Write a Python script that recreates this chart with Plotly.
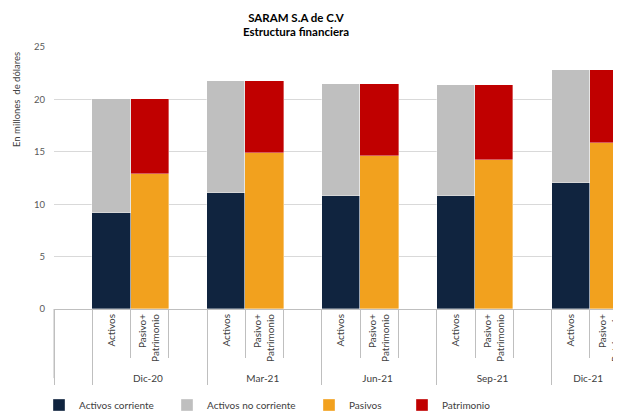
import plotly.graph_objects as go

periods = ["Dic-20", "Mar-21", "Jun-21", "Sep-21", "Dic-21"]
bar_labels = ["Activos", "Pasivo+<br>Patrimonio"]
activos_corriente = [9.2, 11.1, 10.8, 10.8, 12.0]
activos_no_corriente = [10.8, 10.7, 10.7, 10.6, 10.8]
pasivos = [12.9, 14.9, 14.6, 14.2, 15.8]
patrimonio = [7.1, 6.9, 6.9, 7.2, 7.0]
y_ticks = [0, 5, 10, 15, 20, 25]

series = [
    ("Activos corriente", activos_corriente, 0, "#10243F", "legend"),
    ("Activos no corriente", activos_no_corriente, 0, "#BFBFBF", "legend2"),
    ("Pasivos", pasivos, 1, "#F2A11E", "legend3"),
    ("Patrimonio", patrimonio, 1, "#C00000", "legend4"),
]

# multicategory slots: leading blank, then per period [Activos, Pasivo+Patrimonio, blank]
outer = [" "]
inner = [" "]
for p in periods:
    outer += [p, p, p]
    inner += [bar_labels[0], bar_labels[1], "  "]

fig = go.Figure()
for name, vals, slot, color, lg in series:
    y = [None]
    for v in vals:
        row = [None, None, None]
        row[slot] = v
        y += row
    fig.add_trace(go.Bar(
        x=[outer, inner], y=y, name=name, legend=lg, showlegend=True,
        marker=dict(color=color, line=dict(color="rgba(255,255,255,0.6)", width=0.6)),
    ))

font_family = "Lato, 'Open Sans', sans-serif"
OFF = 8  # page body margin
W, H = 621 - OFF, 411 - OFF
ml, mr, mt = 54 - OFF, 0, 47 - OFF
mb = H - (308.9 - OFF)
slot_px = 38.28
plot_w = W - ml - mr
plot_h = H - mt - mb

fig.update_layout(
    width=W, height=H,
    margin=dict(l=ml, r=mr, t=mt, b=mb, autoexpand=False),
    paper_bgcolor="white", plot_bgcolor="white",
    barmode="stack", bargap=0,
    font=dict(family=font_family, size=10, color="#404040"),
    showlegend=True,
    title=dict(
        text="<b>SARAM S.A de C.V</b><br><b>Estructura financiera</b>",
        x=(296 - OFF) / W, xanchor="center", y=1 - 13.5 / H, yanchor="top",
        font=dict(family=font_family, size=11.5, color="#000000"),
        automargin=False,
    ),
    xaxis=dict(
        type="multicategory", automargin=False,
        range=[-0.5, -0.5 + plot_w / slot_px],
        showline=True, linecolor="#BFBFBF", linewidth=1,
        ticks="outside", ticklen=48, tickcolor="#BFBFBF", tickson="boundaries",
        tickangle=-90,
        showdividers=True, dividercolor="#BFBFBF", dividerwidth=1,
        tickfont=dict(size=10, color="#404040"),
        showgrid=False,
    ),
    yaxis=dict(
        range=[0, 25], tickvals=y_ticks, automargin=False,
        showgrid=True, gridcolor="#D9D9D9", gridwidth=1,
        zeroline=False, showline=False,
        ticklabelstandoff=8,
        tickfont=dict(size=9.5, color="#595959"),
    ),
    annotations=[dict(
        text="En millones  de dólares", textangle=-90,
        xref="paper", yref="paper",
        x=(16 - 54) / plot_w, y=(308.9 - 100) / plot_h,
        xanchor="center", yanchor="middle", showarrow=False,
        font=dict(size=9.5, color="#404040"),
    )],
    shapes=[dict(
        type="line", xref="paper", yref="paper",
        x0=0, x1=0, y0=0, y1=-(378 - 308.9) / plot_h,
        line=dict(color="#BFBFBF", width=1),
    )],
)

legend_sym_x = [67, 195, 337, 430]
for i, lg in enumerate(["legend", "legend2", "legend3", "legend4"]):
    fig.update_layout({lg: dict(
        orientation="h", xref="container", yref="container",
        x=(legend_sym_x[i] - 36) / W, xanchor="left",
        y=(H - (405 - OFF)) / H, yanchor="middle",
        font=dict(size=10, color="#404040"),
        bgcolor="rgba(0,0,0,0)", itemwidth=30,
    )})

fig.write_html("out.html")
